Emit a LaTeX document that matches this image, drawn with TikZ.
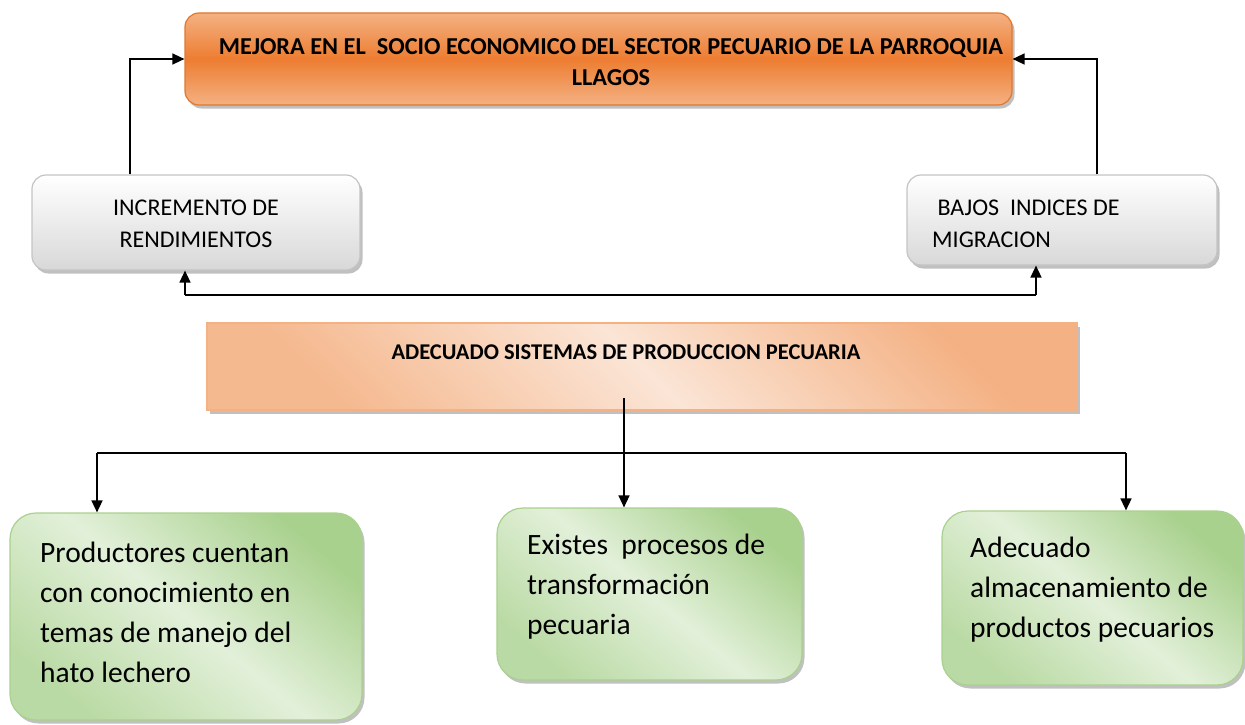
\documentclass[tikz,border=0pt]{standalone}
\usepackage{fontspec}
\setmainfont{Carlito}
\usetikzlibrary{arrows.meta,shadows}
\definecolor{orDark}{HTML}{ED7D31}
\definecolor{orLight}{HTML}{F4B183}
\definecolor{orPale}{HTML}{FBE5D6}
\definecolor{orBorder}{HTML}{E0782E}
\definecolor{grBorder}{HTML}{C4C4C4}
\definecolor{grFill}{HTML}{D8D8D8}
\definecolor{gnDark}{HTML}{A9D18E}
\definecolor{gnPale}{HTML}{E2F0D9}
\tikzset{
  shad/.style={drop shadow={shadow xshift=2.5pt,shadow yshift=-3.5pt,fill=black!45,opacity=.55}},
  topbox/.style={draw=orBorder,line width=1.2pt,rounded corners=14pt,shad,
    top color=orLight,bottom color=orLight,middle color=orDark,
    minimum width=827pt,minimum height=92pt,inner sep=0pt},
  greybox/.style={draw=grBorder,line width=1.2pt,rounded corners=14pt,shad,
    top color=white,bottom color=grFill,inner sep=0pt},
  midbox/.style={draw=orLight,line width=1.2pt,shad,
    top color=orLight,bottom color=orLight!90,middle color=orPale,shading angle=-45,
    minimum width=870pt,minimum height=87pt,inner sep=0pt},
  greenbox/.style={draw=gnDark,line width=1.2pt,rounded corners=26pt,shad,
    top color=gnDark,bottom color=gnDark!80,middle color=gnPale,shading angle=-40,inner sep=0pt},
  boldtxt/.style={font=\fontsize{24.3}{31}\selectfont\bfseries,align=center,inner sep=0pt},
  greytxt/.style={font=\fontsize{24}{32}\selectfont,inner sep=0pt},
  greentxt/.style={font=\fontsize{29.5}{40}\selectfont,align=left,anchor=west,inner sep=0pt},
  arr/.style={line width=1.5pt,-{Triangle[length=12pt,width=11pt]}},
  ln/.style={line width=1.5pt}
}
\begin{document}
\begin{tikzpicture}[x=1pt,y=-1pt]
\useasboundingbox (0,0) rectangle (1245,725);
% boxes
\node[topbox] (top) at (598.5,59) {};
\node[boldtxt] (toptxt) at (611,62) {MEJORA EN EL \ SOCIO ECONOMICO DEL SECTOR PECUARIO DE LA PARROQUIA\\LLAGOS};
\node[greybox,minimum width=328pt,minimum height=95pt] (gl) at (196,222.5) {};
\node[greytxt,align=center] (gltxt) at (196,224) {INCREMENTO DE\\RENDIMIENTOS};
\node[greybox,minimum width=310pt,minimum height=90pt] (gr) at (1062,220) {};
\node[greytxt,align=left,anchor=west] (grtxt) at (932,224) {\ BAJOS \ INDICES DE\\MIGRACION};
\node[midbox] (mid) at (642,366.5) {};
\node[boldtxt,font=\fontsize{22.5}{30}\selectfont\bfseries] (midtxt) at (626,352) {ADECUADO SISTEMAS DE PRODUCCION PECUARIA};
\node[greenbox,minimum width=352pt,minimum height=207pt] (gL) at (186,616.5) {};
\node[greentxt] (gLtxt) at (40,612) {Productores cuentan\\con conocimiento en\\temas de manejo del\\hato lechero};
\node[greenbox,minimum width=305pt,minimum height=172pt] (gM) at (649.5,594) {};
\node[greentxt] (gMtxt) at (527,587) {Existes \ procesos de\\transformación\\pecuaria};
\node[greenbox,minimum width=301pt,minimum height=174pt] (gR) at (1092.5,598) {};
\node[greentxt] (gRtxt) at (970,590) {Adecuado\\almacenamiento de\\productos pecuarios};
% upper connectors
\draw[arr] ([xshift=-66pt]gl.north) |- (top.west);
\draw[arr] ([xshift=35pt]gr.north) |- (top.east);
% lower feedback line
\coordinate (bl) at (185,295);
\coordinate (br) at (1036,295);
\draw[ln] (bl) -- (br);
\draw[arr] (bl) -- (bl |- gl.south);
\draw[arr] (br) -- (br |- gr.south);
% distribution
\coordinate (ms) at (624,398);
\coordinate (hl) at (97,453);
\coordinate (hr) at (1126,453);
\draw[ln] (hl) -- (hr);
\draw[arr] (ms) -- (ms |- gM.north);
\draw[arr] (hl) -- (hl |- gL.north);
\draw[arr] (hr) -- (hr |- gR.north);
\end{tikzpicture}
\end{document}
